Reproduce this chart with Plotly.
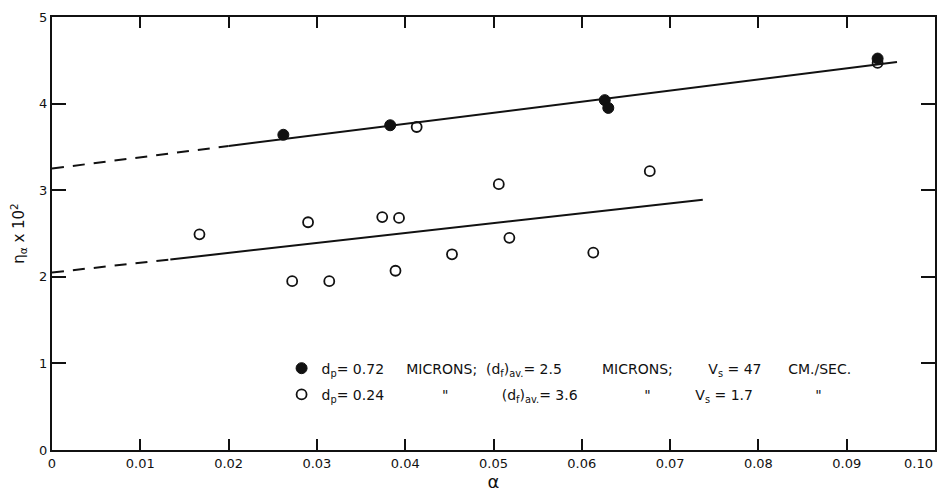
import plotly.graph_objects as go

# ---- data ----
filled_x = [0.0262, 0.0383, 0.0626, 0.0630, 0.0935]
filled_y = [3.64, 3.75, 4.04, 3.95, 4.52]

open_x = [0.0167, 0.0272, 0.0290, 0.0314, 0.0374, 0.0389, 0.0393, 0.0413,
          0.0453, 0.0506, 0.0518, 0.0613, 0.0677, 0.0935]
open_y = [2.49, 1.95, 2.63, 1.95, 2.69, 2.07, 2.68, 3.73,
          2.26, 3.07, 2.45, 2.28, 3.22, 4.47]

# fitted lines (solid portions and dashed extrapolations)
upper_solid_x = [0.0200, 0.0957]
upper_solid_y = [3.51, 4.48]
upper_dash_x = [0.0, 0.0200]
upper_dash_y = [3.25, 3.51]

lower_solid_x = [0.0134, 0.0737]
lower_solid_y = [2.20, 2.89]
lower_dash_x = [0.0, 0.0134]
lower_dash_y = [2.05, 2.20]

x_ticks = [0, 0.01, 0.02, 0.03, 0.04, 0.05, 0.06, 0.07, 0.08, 0.09, 0.10]
x_tick_labels = ["0", "0.01", "0.02", "0.03", "0.04", "0.05", "0.06", "0.07", "0.08", "0.09",
                 "0.10<span style='color:rgba(0,0,0,0)'>0000</span>"]
y_ticks = [0, 1, 2, 3, 4, 5]
y_tick_labels = ["0", "1", "2", "3", "4", "5"]

nb = "\u00a0"
legend_filled = ("d<sub>p</sub>= 0.72 " + nb * 4 + "MICRONS; " + nb * 1
                 + "(d<sub>f</sub>)<sub>av.</sub>= 2.5 " + nb * 8 + "MICRONS; " + nb * 7
                 + "V<sub>s</sub> = 47 " + nb * 5 + "CM./SEC.")
legend_open = ("d<sub>p</sub>= 0.24" + nb * 13 + '"' + nb * 12
               + "(d<sub>f</sub>)<sub>av.</sub>= 3.6" + nb * 15 + '"' + nb * 10
               + "V<sub>s</sub> = 1.7" + nb * 14 + '"')

ink = "#111111"
fig = go.Figure()

for xs, ys, dash in [(upper_dash_x, upper_dash_y, "12px,9px"),
                     (upper_solid_x, upper_solid_y, "solid"),
                     (lower_dash_x, lower_dash_y, "12px,9px"),
                     (lower_solid_x, lower_solid_y, "solid")]:
    fig.add_trace(go.Scatter(x=xs, y=ys, mode="lines", showlegend=False,
                             line=dict(color=ink, width=2, dash=dash), hoverinfo="skip"))

fig.add_trace(go.Scatter(x=filled_x, y=filled_y, mode="markers", name=legend_filled,
                         legendgroup="a",
                         marker=dict(symbol="circle", size=11, color=ink,
                                     line=dict(color=ink, width=1))))
fig.add_trace(go.Scatter(x=open_x, y=open_y, mode="markers", name=legend_open,
                         legendgroup="b",
                         marker=dict(symbol="circle-open", size=10, color=ink,
                                     line=dict(color=ink, width=1.8))))

axis_common = dict(showline=True, linecolor=ink, linewidth=2, mirror="ticks",
                   ticks="inside", tickcolor=ink, tickwidth=2, showgrid=False,
                   zeroline=False, automargin=False, ticklabeloverflow="allow",
                   tickfont=dict(size=13, color=ink))

# the page body adds an 8px offset, so the figure is sized to fit the 945x492 window
fig.update_layout(
    width=937, height=484,
    margin=dict(l=44, r=10, t=9, b=42),
    paper_bgcolor="white", plot_bgcolor="white",
    font=dict(family="DejaVu Sans", color=ink),
    xaxis=dict(range=[0, 0.10], tickvals=x_ticks, ticktext=x_tick_labels, ticklen=11,
               title=dict(text="\u03b1", font=dict(size=18), standoff=2), **axis_common),
    yaxis=dict(range=[0, 5], tickvals=y_ticks, ticktext=y_tick_labels, ticklen=14,
               title=dict(text="\u03b7<sub>\u03b1</sub> x 10<sup>2</sup>", font=dict(size=15), standoff=14),
               **axis_common),
    legend=dict(x=0.260, y=0.225, xanchor="left", yanchor="top", bgcolor="rgba(0,0,0,0)",
                font=dict(size=14, color=ink), traceorder="grouped", tracegroupgap=5),
    showlegend=True,
)

fig.write_html("out.html")
